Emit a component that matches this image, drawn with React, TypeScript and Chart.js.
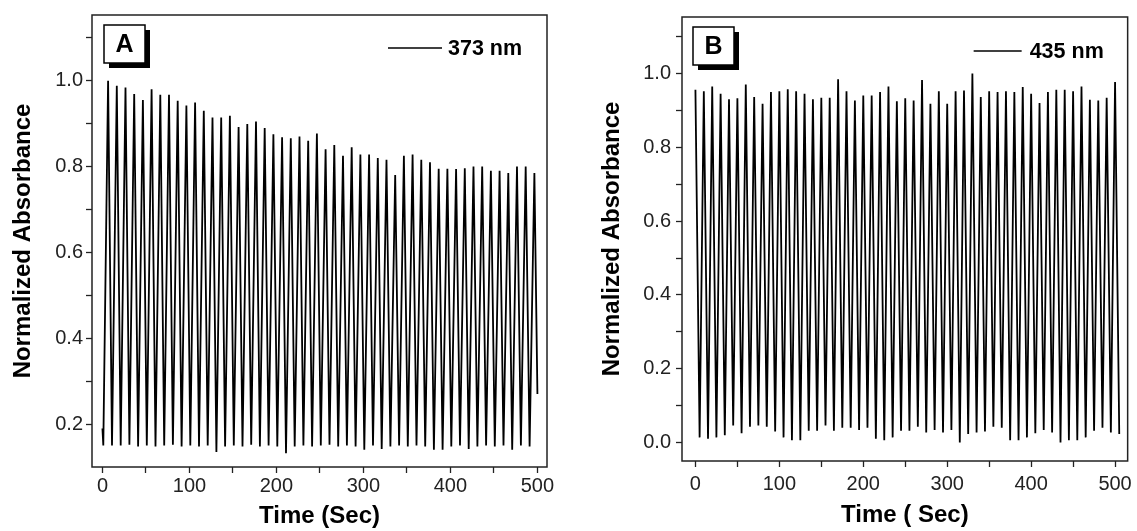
import React, { useEffect, useRef } from "react";
import { Chart, registerables } from "chart.js";

Chart.register(...registerables);

// ---------------- Panel A : 373 nm ----------------
const labelA = "373 nm";
// peak absorbance of each oscillation cycle (50 cycles)
const peaksA = [
  1.0, 0.988, 0.984, 0.969, 0.955, 0.98, 0.967, 0.967, 0.953, 0.942,
  0.949, 0.93, 0.914, 0.914, 0.918, 0.892, 0.899, 0.905, 0.89, 0.875,
  0.868, 0.866, 0.87, 0.86, 0.877, 0.84, 0.85, 0.825, 0.845, 0.828,
  0.828, 0.82, 0.816, 0.78, 0.825, 0.828, 0.816, 0.81, 0.795, 0.795,
  0.794, 0.796, 0.8, 0.8, 0.79, 0.79, 0.785, 0.8, 0.8, 0.785,
];
// trough absorbance of each cycle (50 cycles)
const troughsA = [
  0.15, 0.15, 0.15, 0.152, 0.148, 0.15, 0.148, 0.15, 0.152, 0.148,
  0.15, 0.148, 0.15, 0.135, 0.148, 0.15, 0.148, 0.152, 0.148, 0.15,
  0.148, 0.132, 0.148, 0.15, 0.148, 0.15, 0.152, 0.148, 0.15, 0.148,
  0.14, 0.15, 0.142, 0.148, 0.15, 0.148, 0.15, 0.148, 0.14, 0.14,
  0.148, 0.15, 0.142, 0.148, 0.15, 0.148, 0.15, 0.14, 0.15, 0.148,
];
const firstValueA = 0.19; // value at t = 0
const lastValueA = 0.27; // value at t = 500
const lastTimeA = 500;
const cycleA = 10; // s per oscillation
const troughPhaseA = 1; // s into each cycle
const peakPhaseA = 6.5;

// ---------------- Panel B : 435 nm ----------------
const labelB = "435 nm";
const peaksB = [
  0.956, 0.952, 0.965, 0.945, 0.93, 0.933, 0.97, 0.936, 0.918, 0.95,
  0.952, 0.957, 0.952, 0.945, 0.93, 0.934, 0.934, 0.984, 0.952, 0.927,
  0.94, 0.94, 0.95, 0.965, 0.925, 0.933, 0.927, 0.982, 0.918, 0.952,
  0.918, 0.952, 0.954, 1.0, 0.936, 0.952, 0.95, 0.952, 0.95, 0.963,
  0.945, 0.92, 0.95, 0.956, 0.956, 0.952, 0.965, 0.929, 0.927, 0.934,
  0.977,
];
const troughsB = [
  0.014, 0.01, 0.014, 0.02, 0.046, 0.025, 0.043, 0.046, 0.043, 0.03,
  0.014, 0.006, 0.006, 0.032, 0.032, 0.046, 0.032, 0.04, 0.04, 0.034,
  0.04, 0.01, 0.006, 0.014, 0.032, 0.032, 0.043, 0.027, 0.034, 0.027,
  0.034, 0.0, 0.023, 0.027, 0.03, 0.043, 0.04, 0.006, 0.006, 0.014,
  0.025, 0.034, 0.027, 0.0, 0.006, 0.006, 0.014, 0.032, 0.04, 0.027,
  0.023,
];
const cycleB = 10;
const peakPhaseB = 0;
const troughPhaseB = 5;

// ---------------- ticks ----------------
const xMajor = [0, 100, 200, 300, 400, 500];
const xMinor = [50, 150, 250, 350, 450];
const yMajorA = [0.2, 0.4, 0.6, 0.8, 1.0];
const yMinorA = [0.3, 0.5, 0.7, 0.9, 1.1];
const yMajorB = [0.0, 0.2, 0.4, 0.6, 0.8, 1.0];
const yMinorB = [0.1, 0.3, 0.5, 0.7, 0.9, 1.1];

const FONT = '"Liberation Sans", Arial, Helvetica, sans-serif';

function buildA() {
  const pts: { x: number; y: number }[] = [{ x: 0, y: firstValueA }];
  for (let k = 0; k < peaksA.length; k++) {
    pts.push({ x: k * cycleA + troughPhaseA, y: troughsA[k] });
    pts.push({ x: k * cycleA + peakPhaseA, y: peaksA[k] });
  }
  pts.push({ x: lastTimeA, y: lastValueA });
  return pts;
}

function buildB() {
  const pts: { x: number; y: number }[] = [];
  for (let k = 0; k < peaksB.length; k++) {
    pts.push({ x: k * cycleB + peakPhaseB, y: peaksB[k] });
    pts.push({ x: k * cycleB + troughPhaseB, y: troughsB[k] });
  }
  return pts;
}

const decorPlugin = {
  id: "decor",
  afterDraw(chart: any, _args: any, opts: any) {
    const { ctx, chartArea: a } = chart;
    ctx.save();
    // frame
    ctx.strokeStyle = "#222";
    ctx.lineWidth = 1.5;
    ctx.strokeRect(a.left, a.top, a.right - a.left, a.bottom - a.top);
    // panel letter box with shadow
    const bx = a.left + opts.boxDx;
    const by = a.top + 10;
    const bw = 41;
    const bh = 38;
    ctx.fillStyle = "#000";
    ctx.fillRect(bx + 5, by + 5, bw, bh);
    ctx.fillStyle = "#fff";
    ctx.fillRect(bx, by, bw, bh);
    ctx.strokeStyle = "#000";
    ctx.lineWidth = 1.5;
    ctx.strokeRect(bx, by, bw, bh);
    ctx.fillStyle = "#000";
    ctx.font = `bold 25px ${FONT}`;
    ctx.textAlign = "center";
    ctx.textBaseline = "middle";
    ctx.fillText(opts.letter, bx + bw / 2, by + bh / 2 + 1);
    // legend
    const ly = a.top + opts.legendDy;
    ctx.beginPath();
    ctx.moveTo(a.right - opts.lineFrom, ly);
    ctx.lineTo(a.right - opts.lineTo, ly);
    ctx.lineWidth = 1.4;
    ctx.stroke();
    ctx.font = `bold 21.5px ${FONT}`;
    ctx.textAlign = "left";
    ctx.fillText(chart.data.datasets[0].label, a.right - opts.textFrom, ly + 1);
    ctx.restore();
  },
};

function makeConfig(p: any) {
  return {
    type: "line",
    data: {
      datasets: [
        {
          label: p.label,
          data: p.data,
          borderColor: "#000",
          borderWidth: 1.8,
          pointRadius: 0,
          tension: 0,
          fill: false,
        },
      ],
    },
    plugins: [decorPlugin],
    options: {
      animation: false,
      responsive: false,
      events: [],
      layout: { padding: { left: 0, top: 14, right: p.padRight, bottom: 0 } },
      plugins: {
        legend: { display: false },
        tooltip: { enabled: false },
        decor: p.decor,
      },
      scales: {
        x: {
          type: "linear",
          min: p.xMin,
          max: p.xMax,
          afterFit: (s: any) => {
            s.height = p.xAxisHeight;
          },
          afterBuildTicks: (s: any) => {
            s.ticks = [...xMajor, ...xMinor].sort((m, n) => m - n).map((v) => ({ value: v }));
          },
          border: { display: false },
          grid: {
            display: true,
            drawOnChartArea: false,
            drawTicks: true,
            tickLength: 6,
            tickColor: "#222",
            tickWidth: 1.3,
          },
          ticks: {
            autoSkip: false,
            maxRotation: 0,
            padding: p.xTickPad,
            color: "#222",
            font: { size: 20, family: FONT },
            callback: (v: number) => (xMajor.includes(v) ? String(v) : ""),
          },
          title: {
            display: true,
            text: p.xTitle,
            color: "#000",
            font: { size: 24, weight: "bold", family: FONT, lineHeight: 1 },
            padding: { top: 0, bottom: p.xTitlePad },
          },
        },
        y: {
          type: "linear",
          min: p.yMin,
          max: p.yMax,
          afterFit: (s: any) => {
            s.width = 92;
          },
          afterBuildTicks: (s: any) => {
            s.ticks = [...p.yMajor, ...p.yMinor].sort((m: number, n: number) => m - n).map((v: number) => ({ value: v }));
          },
          border: { display: false },
          grid: {
            display: true,
            drawOnChartArea: false,
            drawTicks: true,
            tickLength: 6,
            tickColor: "#222",
            tickWidth: 1.3,
          },
          ticks: {
            autoSkip: false,
            padding: p.yTickPad,
            color: "#222",
            font: { size: 20, family: FONT },
            callback: (v: number) => (p.yMajor.includes(v) ? v.toFixed(1) : ""),
          },
          title: {
            display: true,
            text: "Normalized Absorbance",
            color: "#000",
            font: { size: 24, weight: "bold", family: FONT, lineHeight: 1 },
            padding: { top: p.yTitlePad, bottom: 0 },
          },
        },
      },
    },
  };
}

function Panel(props: { cfg: any; left: number; width: number }) {
  const ref = useRef<HTMLCanvasElement | null>(null);
  useEffect(() => {
    if (!ref.current) return;
    const chart = new Chart(ref.current, props.cfg);
    return () => chart.destroy();
  }, []);
  return (
    <canvas
      ref={ref}
      width={props.width}
      height={531}
      style={{ position: "absolute", left: props.left, top: 0, width: props.width, height: 531 }}
    />
  );
}

export default function App() {
  const cfgA = makeConfig({
    label: labelA,
    data: buildA(),
    padRight: 21,
    xMin: -12,
    xMax: 511,
    yMin: 0.1,
    yMax: 1.153,
    yMajor: yMajorA,
    yMinor: yMinorA,
    xAxisHeight: 64,
    xTickPad: 1,
    yTickPad: 3,
    xTitle: "Time (Sec)",
    xTitlePad: 3,
    yTitlePad: 11,
    decor: { letter: "A", boxDx: 12, legendDy: 33, lineFrom: 159, lineTo: 105, textFrom: 99 },
  });
  const cfgB = makeConfig({
    label: labelB,
    data: buildB(),
    padRight: 9,
    xMin: -16,
    xMax: 515,
    yMin: -0.05,
    yMax: 1.153,
    yMajor: yMajorB,
    yMinor: yMinorB,
    xAxisHeight: 70,
    xTickPad: 5,
    yTickPad: 5,
    xTitle: "Time ( Sec)",
    xTitlePad: 4,
    yTitlePad: 10,
    decor: { letter: "B", boxDx: 11, legendDy: 34, lineFrom: 154, lineTo: 106, textFrom: 98 },
  });
  return (
    <div style={{ position: "absolute", left: 0, top: 0, width: 1137, height: 531, background: "#fff" }}>
      <Panel cfg={cfgA} left={0} width={568} />
      <Panel cfg={cfgB} left={590} width={547} />
    </div>
  );
}
